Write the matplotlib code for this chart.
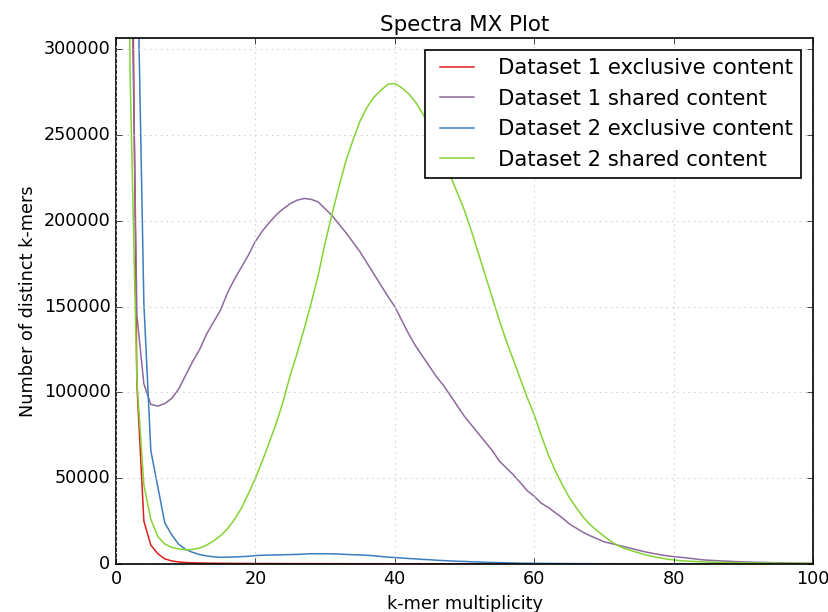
import numpy as np
import matplotlib
matplotlib.use("Agg")
import matplotlib.pyplot as plt

plt.style.use("classic")

kmer = list(range(1, 101))

d1_exclusive = [
    1500000, 500000, 105000, 25000, 11000, 6000, 3000, 1800, 1200, 900,
    700, 600, 520, 460, 420, 390, 360, 340, 320, 300,
    285, 270, 260, 250, 240, 230, 220, 210, 200, 195,
    190, 185, 180, 175, 170, 165, 160, 155, 150, 145,
    140, 135, 130, 125, 120, 115, 110, 105, 100, 95,
    90, 86, 82, 78, 74, 70, 67, 64, 61, 58,
    55, 52, 50, 48, 46, 44, 42, 40, 38, 36,
    34, 32, 30, 29, 28, 27, 26, 25, 24, 23,
    22, 21, 20, 19, 18, 17, 16, 15, 14, 13,
    12, 12, 11, 11, 10, 10, 9, 9, 8, 8,
]

d1_shared = [
    1200000, 420000, 145000, 105000, 93000, 92000, 93500, 96500, 102000, 110000,
    118000, 125000, 134000, 141000, 148000, 158000, 166000, 173000, 180000, 188000,
    194000, 199000, 203500, 207000, 210000, 212000, 213000, 212500, 211000, 207000,
    203000, 198000, 193000, 187500, 182000, 175500, 169000, 162500, 156000, 150000,
    142000, 134000, 127000, 121000, 115000, 109000, 104000, 98000, 92000, 86000,
    81000, 76000, 71000, 66000, 60000, 56000, 52000, 47500, 42700, 39500,
    35500, 33000, 30000, 27000, 23500, 21000, 18500, 16500, 14800, 13000,
    12000, 11000, 10000, 9000, 8000, 7000, 6200, 5500, 4800, 4300,
    3900, 3500, 3000, 2500, 2200, 2000, 1800, 1600, 1400, 1250,
    1100, 1000, 900, 800, 700, 620, 560, 500, 450, 400,
]

d2_exclusive = [
    2000000, 900000, 370000, 152000, 66000, 45000, 24000, 17000, 11500, 8500,
    6800, 5500, 4700, 4200, 3900, 4000, 4100, 4300, 4500, 4900,
    5100, 5200, 5300, 5400, 5500, 5600, 5800, 6000, 6000, 6000,
    5900, 5800, 5600, 5400, 5300, 5100, 4800, 4400, 4000, 3800,
    3500, 3200, 3000, 2700, 2500, 2200, 2000, 1800, 1600, 1500,
    1300, 1200, 1000, 900, 800, 700, 600, 500, 450, 400,
    370, 340, 310, 280, 260, 240, 220, 200, 185, 170,
    160, 150, 140, 130, 120, 110, 100, 95, 90, 85,
    80, 75, 70, 65, 60, 56, 52, 48, 45, 42,
    40, 38, 36, 34, 32, 30, 28, 26, 24, 22,
]

d2_shared = [
    2500000, 290000, 107000, 46000, 26000, 16000, 11700, 9700, 8800, 8300,
    8500, 9300, 11000, 13500, 16500, 20500, 26000, 32500, 41000, 50000,
    60000, 71000, 82000, 95000, 110000, 123000, 137000, 152000, 168000, 187000,
    204000, 220000, 235000, 247000, 258000, 266000, 272000, 276000, 279500, 280000,
    277500, 274000, 269000, 262500, 254500, 245500, 236000, 226000, 216000, 206000,
    194000, 181000, 168000, 155000, 142000, 130000, 119000, 108000, 97000, 87000,
    75000, 64000, 54500, 46500, 39000, 33000, 27500, 23000, 19500, 16300,
    13200, 10800, 9000, 7700, 6500, 5300, 4400, 3600, 2900, 2400,
    1950, 1700, 1500, 1300, 1150, 1000, 900, 800, 750, 700,
    650, 600, 550, 500, 480, 450, 420, 400, 380, 350,
]

labels = ["Dataset 1 exclusive content", "Dataset 1 shared content",
          "Dataset 2 exclusive content", "Dataset 2 shared content"]
colors = ["#dc1f1a", "#8d6a9f", "#3d7ebf", "#84d433"]

fig = plt.figure(figsize=(8.29, 6.12), dpi=100, facecolor="white")
ax = fig.add_axes([0.1399, 0.0784, 0.8408, 0.8595])
ax.set_facecolor("white")

for series, lab, col in zip([d1_exclusive, d1_shared, d2_exclusive, d2_shared], labels, colors):
    ax.plot(kmer, series, color=col, lw=1.1, label=lab)

ax.set_xlim(0, 100)
ax.set_ylim(0, 306500)
ax.set_yticks(np.arange(0, 300001, 50000))
ax.grid(True, color="#cccccc", linestyle=":", linewidth=0.8)
ax.tick_params(labelsize=12.7)
for sp in ax.spines.values():
    sp.set_linewidth(1.2)

ax.set_title("Spectra MX Plot", fontsize=15.4)
ax.set_xlabel("k-mer multiplicity", fontsize=12.7)
ax.set_ylabel("Number of distinct k-mers", fontsize=12.7)

leg = ax.legend(loc="upper right", fontsize=15.2, handlelength=2.2, handletextpad=0.85,
                labelspacing=0.5, borderaxespad=0.55, fancybox=False)
leg.get_frame().set_edgecolor("black")
leg.get_frame().set_linewidth(1.2)

plt.savefig("out.png", dpi=100, facecolor="white")
